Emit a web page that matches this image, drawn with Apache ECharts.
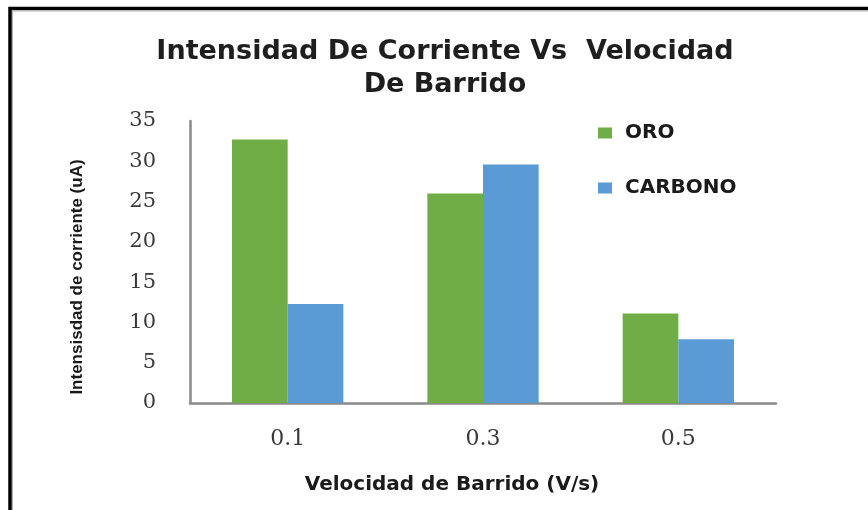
<!DOCTYPE html>
<html>
<head>
<meta charset="utf-8">
<script src="https://cdn.jsdelivr.net/npm/echarts@6/dist/echarts.min.js"></script>
<style>
  html, body { margin: 0; padding: 0; background: #fff; }
  #chart { width: 868px; height: 510px; }
</style>
</head>
<body>
<div id="chart"></div>
<script>
// Scan rates (V/s) and peak currents (uA) for each electrode
const categories = ['0.1', '0.3', '0.5'];
const oro = [32.7, 26.0, 11.1];
const carbono = [12.3, 29.6, 7.9];
const seriesNames = ['ORO', 'CARBONO'];

const chart = echarts.init(document.getElementById('chart'));

const labelFont = '"DejaVu Serif", "Liberation Serif", serif';
const boldFont = '"DejaVu Sans", "Liberation Sans", sans-serif';

chart.setOption({
  backgroundColor: '#ffffff',
  animation: false,
  title: {
    text: 'Intensidad De Corriente Vs  Velocidad\nDe Barrido',
    left: 440,
    top: 30,
    textAlign: 'center',
    textStyle: {
      fontFamily: boldFont,
      fontWeight: 'bold',
      fontSize: 27,
      lineHeight: 33,
      color: '#1e1e1e'
    }
  },
  legend: {
    orient: 'vertical',
    left: 593,
    top: 118,
    itemWidth: 14,
    itemHeight: 11,
    itemGap: 35,
    icon: 'rect',
    textStyle: {
      fontFamily: boldFont,
      fontWeight: 'bold',
      fontSize: 20,
      color: '#1a1a1a',
      padding: [0, 0, 0, 8]
    },
    data: seriesNames
  },
  grid: { left: 190, right: 92, top: 121, bottom: 107 },
  xAxis: {
    type: 'category',
    data: categories,
    axisLine: { lineStyle: { color: '#8a8a8a', width: 2.5 } },
    axisTick: { show: false },
    axisLabel: {
      margin: 25,
      fontFamily: labelFont,
      fontSize: 22,
      color: '#3a3a3a'
    },
    name: 'Velocidad de Barrido (V/s)',
    nameLocation: 'middle',
    nameGap: 72,
    nameTextStyle: {
      fontFamily: boldFont,
      fontWeight: 'bold',
      fontSize: 20,
      color: '#1a1a1a',
      padding: [0, 62, 0, 0]
    }
  },
  yAxis: {
    type: 'value',
    min: 0,
    max: 35,
    interval: 5,
    splitLine: { show: false },
    axisTick: { show: false },
    axisLine: { show: true, lineStyle: { color: '#8a8a8a', width: 2.5 } },
    axisLabel: {
      margin: 34,
      fontFamily: labelFont,
      fontSize: 21,
      color: '#3a3a3a'
    },
    name: 'Intensisdad de corriente (uA)',
    nameLocation: 'middle',
    nameGap: 104,
    nameRotate: 90,
    nameTextStyle: {
      fontFamily: '"Liberation Sans", "Open Sans", sans-serif',
      fontWeight: 'bold',
      fontSize: 17,
      color: '#1a1a1a',
      padding: [0, 30, 0, 0]
    }
  },
  series: [
    {
      name: seriesNames[0],
      type: 'bar',
      data: oro,
      barGap: '0%',
      barCategoryGap: '43%',
      itemStyle: { color: '#70AD47' }
    },
    {
      name: seriesNames[1],
      type: 'bar',
      data: carbono,
      itemStyle: { color: '#5B9BD5' }
    }
  ],
  graphic: [
    {
      type: 'rect',
      silent: true,
      shape: { x: 10, y: 8.5, width: 900, height: 600 },
      style: { fill: null, stroke: '#000000', lineWidth: 3.5 }
    },
    {
      type: 'rect',
      silent: true,
      shape: { x: 12.5, y: 11, width: 900, height: 600 },
      style: { fill: null, stroke: '#b0b0b0', lineWidth: 1 }
    }
  ]
});
</script>
</body>
</html>
